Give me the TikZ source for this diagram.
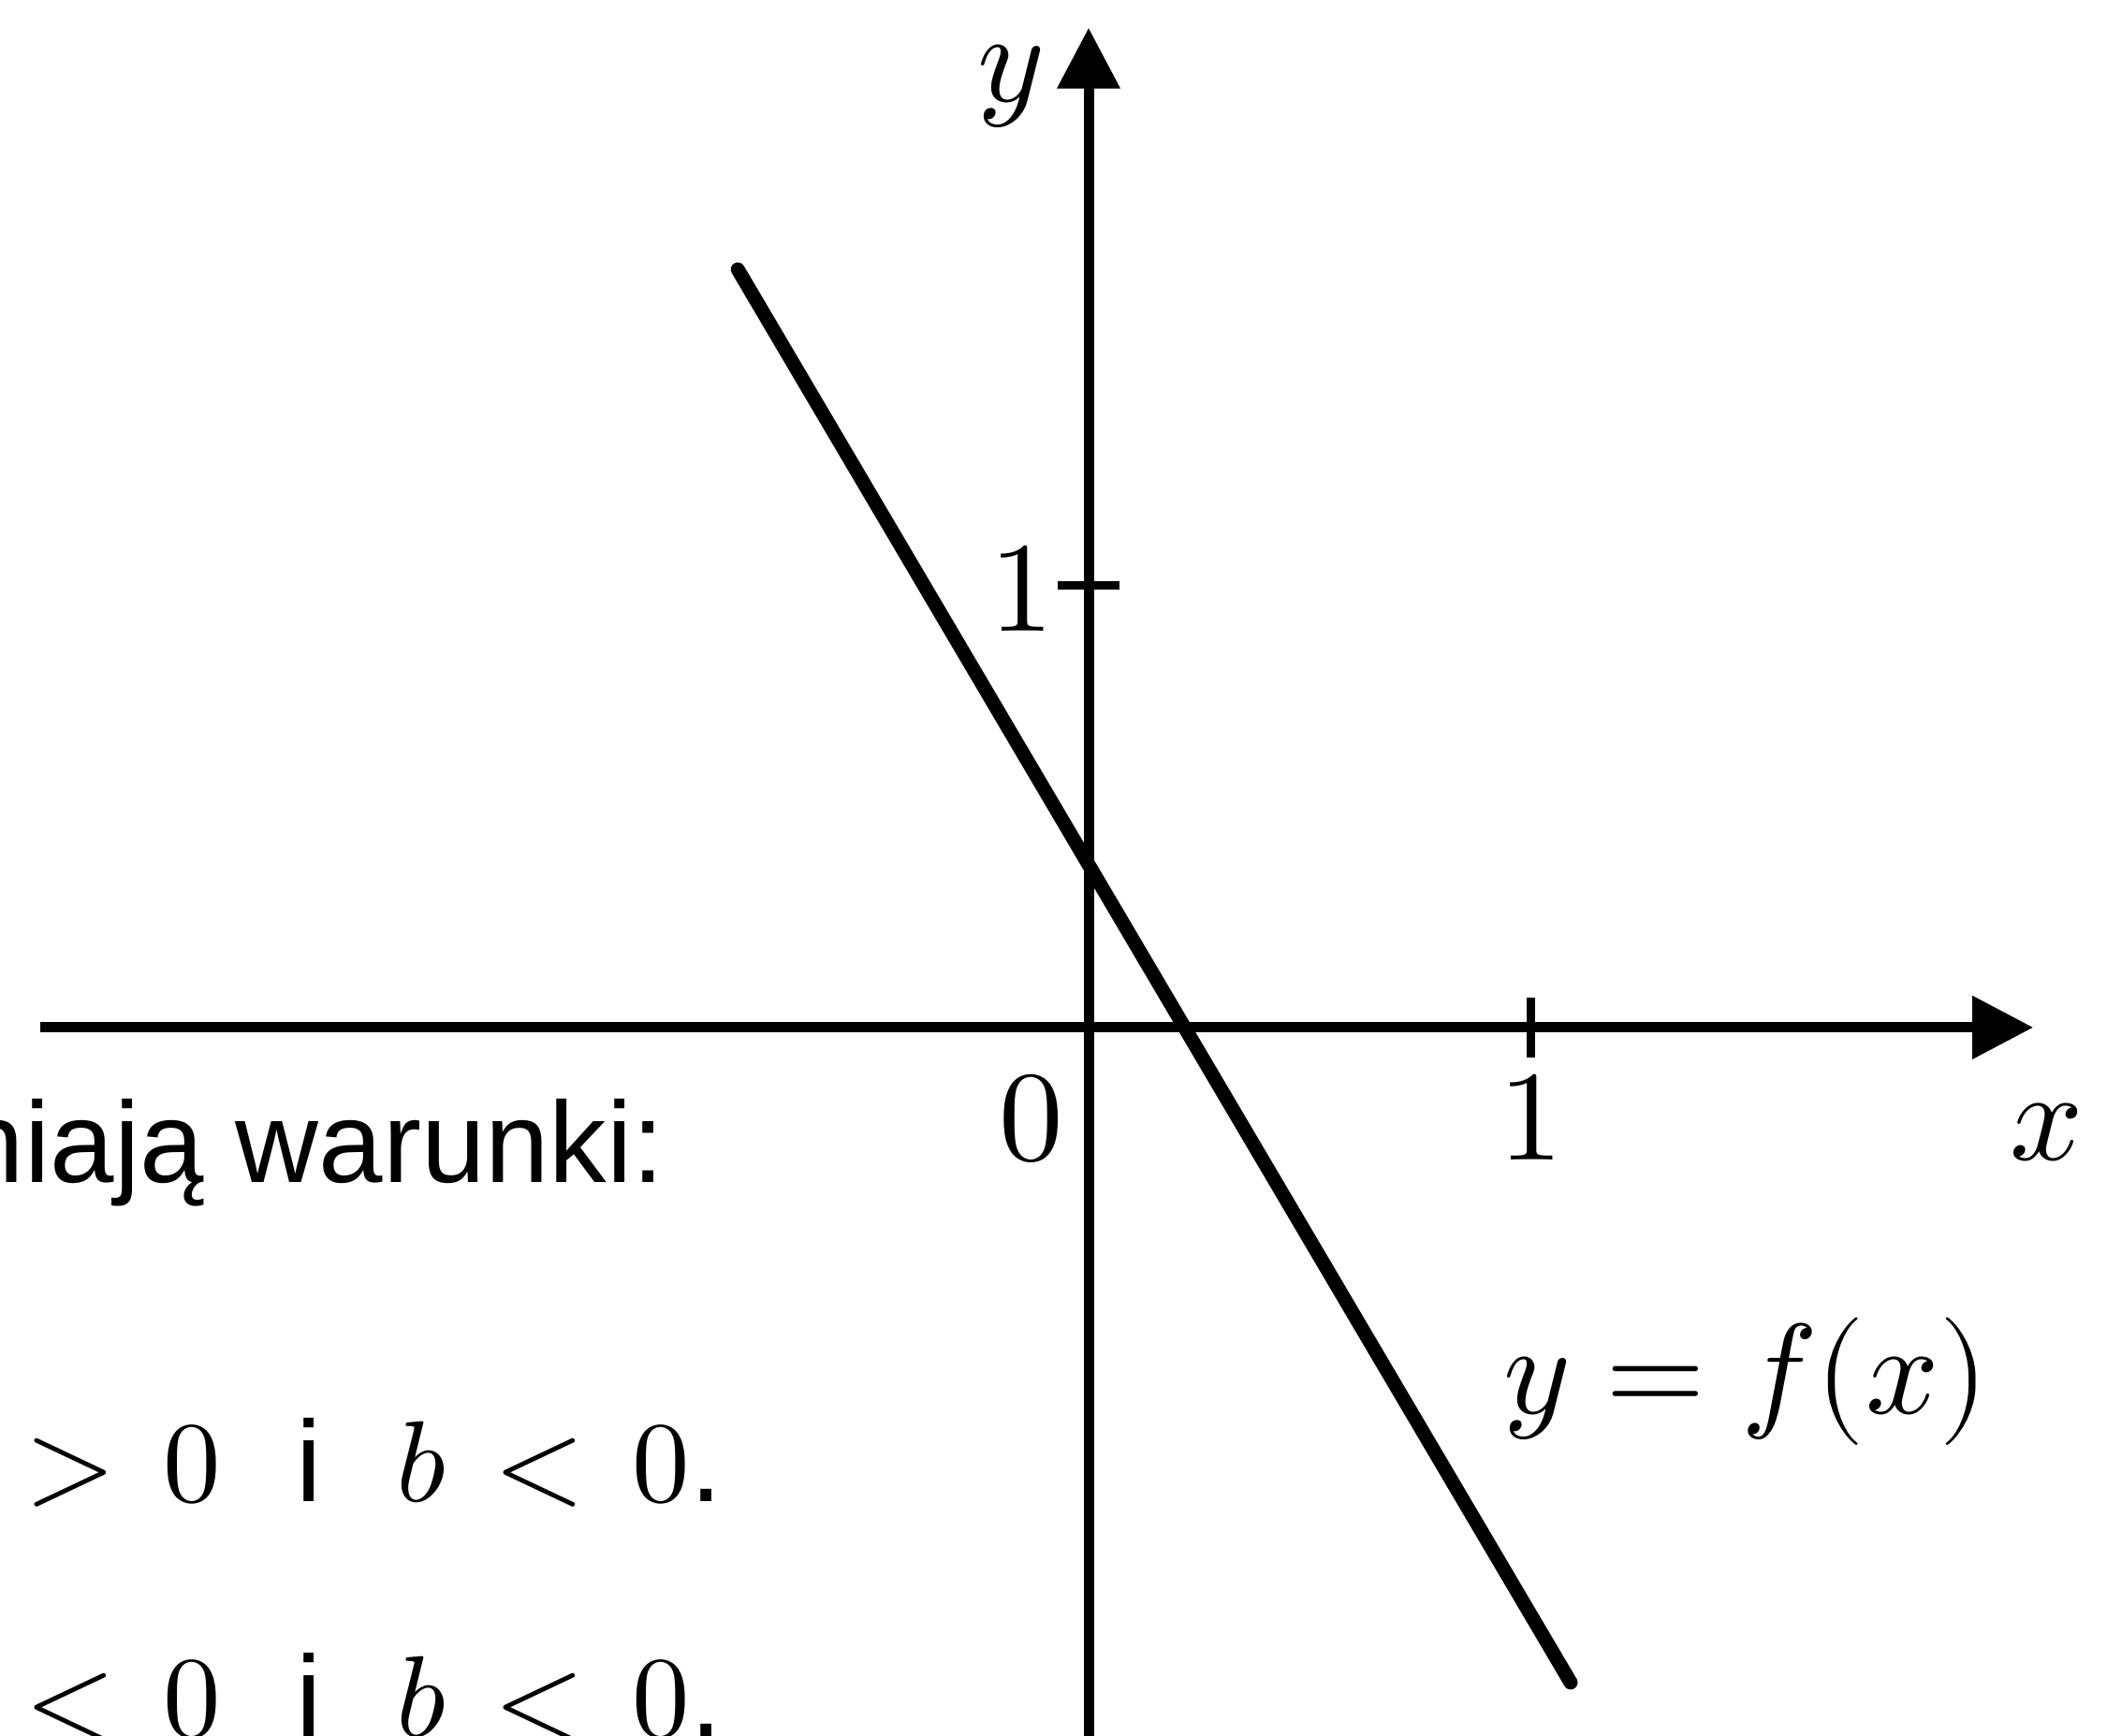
\documentclass[tikz,border=0pt]{standalone}
\usepackage{unicode-math}
\setmathfont{Latin Modern Math}
\setsansfont{Liberation Sans}
\usetikzlibrary{arrows.meta}
\tikzset{
  >={Triangle[length=0.65cm,width=0.65cm]},
  axis/.style={->,line width=0.11cm},
  graph line/.style={line width=0.15cm,line cap=round},
  tickmark/.style={line width=0.09cm},
  lbl/.style={inner sep=0pt,font=\fontsize{39}{47}\selectfont},
  task/.style={inner sep=0pt,anchor=base west,font=\fontsize{35}{42}\selectfont\sffamily},
}

\begin{document}
\begin{tikzpicture}[x=4.72cm,y=4.72cm]
    \clip (-2.464,-1.602) rectangle (2.305,2.326);
    % axes
    \coordinate (xl) at (-2.373,0);
    \coordinate (xr) at (2.138,0);
    \coordinate (yb) at (0,-1.7);
    \coordinate (yt) at (0,2.263);
    \draw[axis] (xl) -- (xr);
    \draw[axis] (yb) -- (yt);
    \foreach \t in {1}{
      \draw[tickmark] (\t,-0.068) -- (\t,0.068);
      \draw[tickmark] (-0.07,\t) -- (0.07,\t);
    }
    \node[lbl] (ylab) at (-0.176,2.131) {$y$};
    \node[lbl,anchor=base] (xlab) at (2.169,-0.301) {$x$};
    \node[lbl,anchor=base] (zero) at (-0.129,-0.301) {$0$};
    \node[lbl,anchor=base] (onex) at (1.002,-0.301) {$1$};
    \node[lbl,anchor=base] (oney) at (-0.150,0.896) {$1$};
    % the graph of f
    \coordinate (fa) at (-0.794,1.716);
    \coordinate (fb) at (1.091,-1.483);
    \draw[graph line] (fa) -- (fb);
    \node[lbl,anchor=base] (flab) at (1.489,-0.875) {$y=f(x)$};
    % text of the task, cut at the left
    \thickmuskip=7.5mu
    \node[task,anchor=base east] (cond) at (-0.958,-0.350) {niają warunki:};
    \node[task] (optA) at (-2.407,-1.074) {$>0$\hspace{0.65em}i\hspace{0.65em}$b<0$.};
    \node[task] (optB) at (-2.407,-1.606) {$<0$\hspace{0.65em}i\hspace{0.65em}$b<0$.};
\end{tikzpicture}
\end{document}
